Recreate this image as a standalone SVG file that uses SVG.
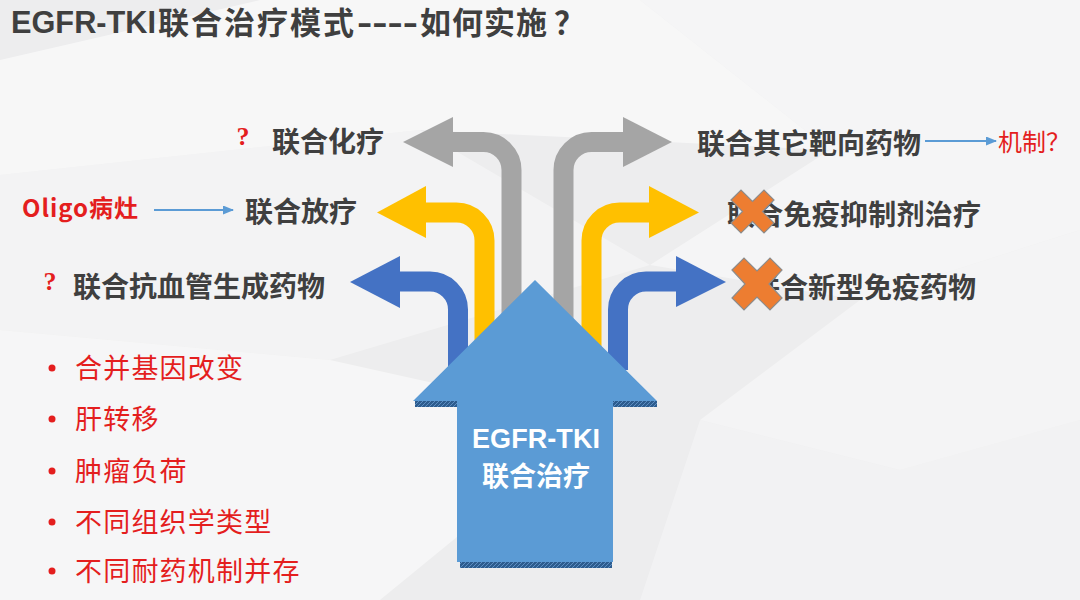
<svg xmlns="http://www.w3.org/2000/svg" width="1080" height="600" viewBox="0 0 1080 600">
<style>
.lbl{font-family:"Noto Sans CJK SC","Liberation Sans",sans-serif;font-weight:700;font-size:28px;fill:#3F3F3F}
.title{font-family:"Noto Sans CJK SC","Liberation Sans",sans-serif;font-weight:700;font-size:31px;fill:#3F3F3F}
.tlat{font-family:"Liberation Sans",sans-serif;font-weight:700;font-size:31px;fill:#3F3F3F}
.red{font-family:"Noto Sans CJK SC","Liberation Sans",sans-serif;fill:#E41E1E}
.bul{font-family:"Noto Sans CJK SC",sans-serif;font-size:27px;letter-spacing:1.2px;fill:#E41E1E}
.q{font-family:"Liberation Serif",serif;font-size:26px;font-weight:700;fill:#E41E1E;text-anchor:middle}
.xm{fill:#ED7D31;stroke:#8C8C8C;stroke-width:1.2}
.band{fill:none;stroke-width:20}
.facet{fill:#FFFFFF}
.conn{stroke:#5B9BD5;stroke-width:2.2;fill:none}
</style>
<defs>
<marker id="ah" markerUnits="userSpaceOnUse" markerWidth="11" markerHeight="9" refX="10" refY="4.5" orient="auto">
<path d="M0,0 L11,4.5 L0,9 z" fill="#5B9BD5"/>
</marker>
<pattern id="hatch" patternUnits="userSpaceOnUse" width="4" height="4">
<rect width="4" height="4" fill="#2D5C8E"/>
<path d="M0,4 L4,0" stroke="#6A9BCF" stroke-width="0.8"/>
</pattern>
</defs>

<g id="background">
<rect width="1080" height="600" fill="#EDEDEE"/>
<polygon class="facet" opacity="0.55" points="0,60 260,0 640,0 830,150 420,130 0,175"/>
<polygon class="facet" opacity="0.45" points="640,0 1080,0 1080,230 860,300 650,265 830,150"/>
<polygon class="facet" opacity="0.35" points="0,175 420,130 650,265 330,360 0,330"/>
<polygon class="facet" opacity="0.5" points="0,330 330,360 600,420 380,600 0,600"/>
<polygon class="facet" opacity="0.4" points="860,300 1080,230 1080,420 900,470 700,420"/>
<polygon class="facet" opacity="0.3" points="700,420 900,470 1080,420 1080,600 640,600"/>
</g>

<g id="branch-arrows">
<g id="arrow-gray-left">
<path class="band" stroke="#A5A5A5" d="M511.5,385 V170 A28,28 0 0 0 483.5,142 H452"/>
<polygon fill="#A5A5A5" points="453,117 403,142 453,167"/>
</g>
<g id="arrow-gray-right">
<path class="band" stroke="#A5A5A5" d="M563.5,385 V170 A28,28 0 0 1 591.5,142 H624"/>
<polygon fill="#A5A5A5" points="623,117 672,142 623,167"/>
</g>
<g id="arrow-yellow-left">
<path class="band" stroke="#FFC000" d="M484.5,385 V240.5 A28,28 0 0 0 456.5,212.5 H425"/>
<polygon fill="#FFC000" points="426,186 377,212.5 426,238"/>
</g>
<g id="arrow-yellow-right">
<path class="band" stroke="#FFC000" d="M591.5,385 V240.5 A28,28 0 0 1 619.5,212.5 H650"/>
<polygon fill="#FFC000" points="649,186 699,212.5 649,238"/>
</g>
<g id="arrow-blue-left">
<path class="band" stroke="#4472C4" d="M458,368 V309.5 A28,28 0 0 0 430,281.5 H399"/>
<polygon fill="#4472C4" points="400,256 350,282 400,308"/>
</g>
<g id="arrow-blue-right">
<path class="band" stroke="#4472C4" d="M618,370 V309.5 A28,28 0 0 1 646,281.5 H677"/>
<polygon fill="#4472C4" points="676,256 726,282 676,307"/>
</g>
</g>

<g id="main-arrow">
<rect x="415" y="401" width="42" height="6" fill="url(#hatch)"/>
<rect x="613" y="401" width="44" height="6" fill="url(#hatch)"/>
<rect x="460" y="562" width="152" height="6" fill="url(#hatch)"/>
<polygon fill="#5B9BD5" points="535,280 657,401 613,401 613,562 457,562 457,401 413,401"/>
<text x="536" y="448" text-anchor="middle" font-family="Liberation Sans, sans-serif" font-weight="700" font-size="27" fill="#FFFFFF" textLength="128">EGFR-TKI</text>
<text x="536" y="486" text-anchor="middle" font-family="Noto Sans CJK SC, sans-serif" font-weight="700" font-size="27" fill="#FFFFFF">联合治疗</text>
</g>

<g id="title">
<text class="tlat" x="11" y="33" textLength="145" lengthAdjust="spacingAndGlyphs">EGFR-TKI</text>
<text class="title" x="158" y="34" textLength="196" lengthAdjust="spacing">联合治疗模式</text>
<text class="tlat" x="357" y="33" textLength="61" lengthAdjust="spacingAndGlyphs">----</text>
<text class="title" x="420" y="34" textLength="127" lengthAdjust="spacing">如何实施</text>
<text class="title" x="554" y="34">？</text>
</g>

<g id="node-chemo">
<text class="q" x="243" y="145">?</text>
<text class="lbl" x="272" y="152">联合化疗</text>
</g>
<g id="node-oligo">
<text class="red" x="22" y="217" font-size="24" font-weight="700" textLength="116" lengthAdjust="spacing">Oligo病灶</text>
</g>
<g id="node-radio">
<text class="lbl" x="245" y="222">联合放疗</text>
</g>
<g id="node-antiangio">
<text class="q" x="50" y="290">?</text>
<text class="lbl" x="73" y="297">联合抗血管生成药物</text>
</g>
<g id="node-targeted">
<text class="lbl" x="697" y="154">联合其它靶向药物</text>
</g>
<g id="node-mechanism">
<text class="red" x="998" y="151" font-size="24">机制？</text>
</g>
<g id="node-checkpoint">
<text class="lbl" x="727" y="225" textLength="254" lengthAdjust="spacing">联合免疫抑制剂治疗</text>
<polygon class="xm" points="731,200 741,190 752.5,201.5 764,190 774,200 762.5,211.5 774,223 764,233 752.5,221.5 741,233 731,223 742.5,211.5"/>
</g>
<g id="node-novel-immuno">
<text class="lbl" x="752" y="298">联合新型免疫药物</text>
<polygon class="xm" points="732,270 744,258 757,271 770,258 782,270 769,284 782,298 770,310 757,297 744,310 732,298 745,284"/>
</g>

<g id="connectors">
<line class="conn" x1="154" y1="210" x2="233" y2="210" marker-end="url(#ah)"/>
<line class="conn" x1="925" y1="141" x2="996" y2="141" marker-end="url(#ah)"/>
</g>

<g id="factor-list">
<circle cx="52" cy="368" r="3.5" fill="#E41E1E"/>
<text class="bul" x="75" y="378">合并基因改变</text>
<circle cx="52" cy="419" r="3.5" fill="#E41E1E"/>
<text class="bul" x="75" y="429">肝转移</text>
<circle cx="52" cy="471" r="3.5" fill="#E41E1E"/>
<text class="bul" x="75" y="481">肿瘤负荷</text>
<circle cx="52" cy="522" r="3.5" fill="#E41E1E"/>
<text class="bul" x="75" y="532">不同组织学类型</text>
<circle cx="52" cy="571" r="3.5" fill="#E41E1E"/>
<text class="bul" x="75" y="581">不同耐药机制并存</text>
</g>
</svg>
